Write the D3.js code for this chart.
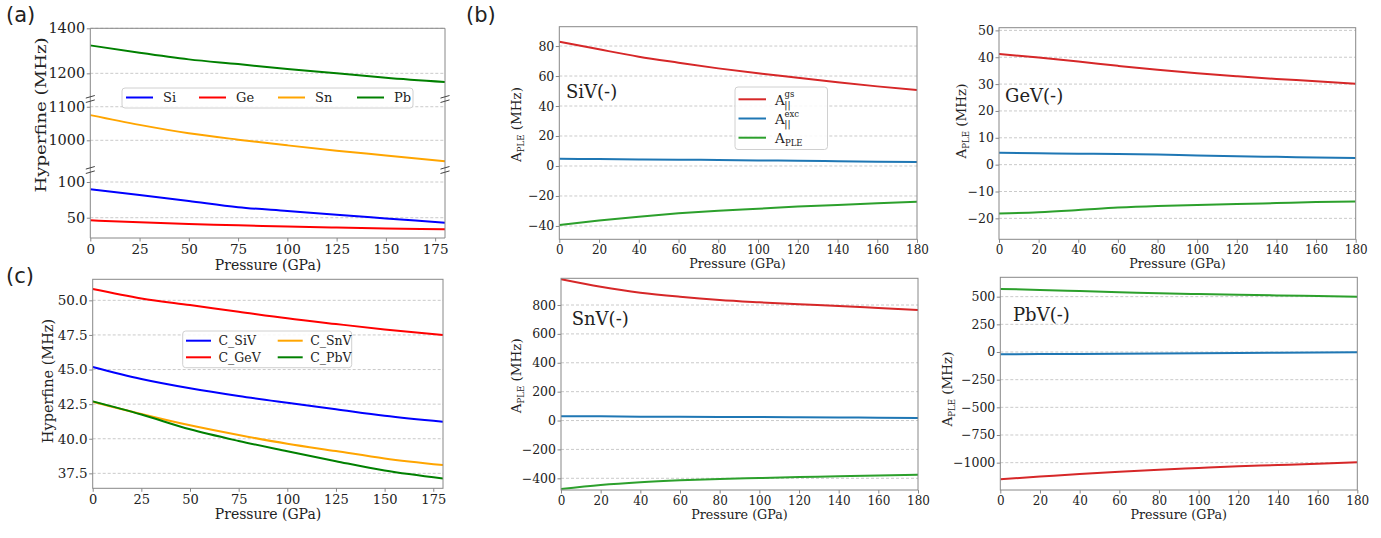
<!DOCTYPE html>
<html><head><meta charset="utf-8">
<script src="https://cdn.jsdelivr.net/npm/d3@7"></script>
<style>
body{margin:0;background:#fff}
svg{display:block}
text{font-family:"DejaVu Serif",serif;fill:#222}
</style>
</head><body>
<svg id="c" width="1381" height="538"></svg>
<script>
// ---------------- DATA ----------------
const pressureAC = [0, 25, 50, 75, 100, 125, 150, 180];
const hfSi = [89.8, 81.8, 73.4, 64.8, 59.4, 54.0, 49.0, 43.0];
const hfGe = [46.3, 43.5, 41.2, 39.5, 37.6, 36.2, 35.0, 33.7];
const hfSn = [1075, 1046, 1021, 1002, 985, 969, 955, 938];
const hfPb = [1324, 1291, 1262, 1241, 1219, 1200, 1180, 1161];
const namesA = ["Si", "Ge", "Sn", "Pb"];

const cSiV = [45.19, 44.32, 43.65, 43.09, 42.60, 42.13, 41.66, 41.23];
const cGeV = [50.82, 50.14, 49.66, 49.18, 48.70, 48.29, 47.90, 47.50];
const cSnV = [42.68, 41.79, 40.97, 40.27, 39.64, 39.11, 38.58, 38.10];
const cPbV = [42.70, 41.75, 40.68, 39.84, 39.10, 38.38, 37.70, 37.13];
const namesC = ["C_SiV", "C_GeV", "C_SnV", "C_PbV"];

const pressureB = [0, 20, 40, 60, 80, 100, 120, 140, 160, 180];
const sivGs  = [82.9, 77.8, 72.9, 68.9, 65.1, 61.8, 58.9, 55.8, 53.1, 50.7];
const sivExc = [4.8, 4.6, 4.4, 4.2, 4.0, 3.7, 3.5, 3.2, 2.9, 2.7];
const sivPle = [-39.3, -36.4, -33.8, -31.6, -29.8, -28.5, -27.1, -26.0, -24.9, -23.8];
const gevGs  = [41.2, 39.9, 38.4, 36.8, 35.3, 34.0, 32.9, 31.9, 31.1, 30.1];
const gevExc = [4.4, 4.2, 4.1, 4.0, 3.8, 3.4, 3.1, 2.9, 2.7, 2.5];
const gevPle = [-18.2, -17.7, -16.9, -16.0, -15.4, -15.0, -14.7, -14.3, -13.9, -13.7];
const snvGs  = [978, 926, 885, 857, 835, 819, 805, 793, 779, 765];
const snvExc = [30, 29, 27, 26, 25, 24, 23, 21, 20, 18];
const snvPle = [-474, -446, -427, -414, -405, -398, -391, -386, -381, -375];
const pbvGs  = [-1150, -1126, -1102, -1081, -1063, -1048, -1033, -1021, -1009, -996];
const pbvExc = [-21, -19, -17, -15, -13, -11, -9, -7, -5, -3];
const pbvPle = [570, 561, 551, 541, 531, 524, 518, 511, 505, 499];
const titlesB = ["SiV(-)", "GeV(-)", "SnV(-)", "PbV(-)"];

// tick values
const xTicksAC = [0, 25, 50, 75, 100, 125, 150, 175];
const xTicksB = [0, 20, 40, 60, 80, 100, 120, 140, 160, 180];
const yTicksATop = [1200, 1400];
const yTicksAMid = [1000, 1100];
const yTicksABot = [50, 100];
const yTicksC = [37.5, 40, 42.5, 45, 47.5, 50];
const yTicksSiV = [-40, -20, 0, 20, 40, 60, 80];
const yTicksGeV = [-20, -10, 0, 10, 20, 30, 40, 50];
const yTicksSnV = [-400, -200, 0, 200, 400, 600, 800];
const yTicksPbV = [-1000, -750, -500, -250, 0, 250, 500];

// ---------------- STYLE ----------------
const colAC = ["#0000ff", "#ff0000", "#ffa500", "#008000"];
const colB = {gs: "#d62728", exc: "#1f77b4", ple: "#2ca02c"};
const spineCol = "#888";
const gridCol = "#bdbdbd";
const SERIF = '"DejaVu Serif", serif';

const svg = d3.select("#c");
let clipId = 0;

function styleAxis(g, fs) {
  g.attr("font-family", null).attr("font-size", null);
  g.select(".domain").remove();
  g.selectAll(".tick line").attr("stroke", spineCol).attr("stroke-width", 1);
  g.selectAll(".tick text").attr("font-size", fs).style("font-family", SERIF).attr("fill", "#222");
}

function grid(g, x0, x1, y, ticks) {
  g.append("g").selectAll("line").data(ticks).join("line")
    .attr("x1", x0).attr("x2", x1)
    .attr("y1", d => y(d)).attr("y2", d => y(d))
    .attr("stroke", gridCol).attr("stroke-width", 0.8).attr("stroke-dasharray", "3,2");
}

function plotLine(g, x, y, xs, ys, color, clip) {
  const line = d3.line().x((d, i) => x(xs[i])).y(d => y(d)).curve(d3.curveMonotoneX);
  g.append("path").datum(ys).attr("d", line).attr("fill", "none")
    .attr("stroke", color).attr("stroke-width", 2).attr("clip-path", `url(#${clip})`);
}

function makeClip(x0, y0, x1, y1) {
  const id = "clip" + (clipId++);
  svg.append("clipPath").attr("id", id).append("rect")
    .attr("x", x0).attr("y", y0 - 1).attr("width", x1 - x0).attr("height", y1 - y0 + 2);
  return id;
}

function frame(g, x0, y0, x1, y1) {
  g.append("rect").attr("x", x0).attr("y", y0).attr("width", x1 - x0).attr("height", y1 - y0)
    .attr("fill", "none").attr("stroke", spineCol).attr("stroke-width", 1);
}

// ---------------- PANEL (a) ----------------
(function () {
  const x0 = 90.3, x1 = 445, yTop = 28.3, yB1 = 99, yB2 = 170, yBot = 238;
  const x = d3.scaleLinear().domain([0, 180]).range([x0, x1]);
  const yT = d3.scaleLinear().domain([1086, 1400]).range([yB1, yTop]);
  const yM = d3.scaleLinear().domain([911.6, 1123]).range([yB2, yB1]);
  const yL = d3.scaleLinear().domain([21.6, 116.8]).range([yBot, yB2]);
  const g = svg.append("g");
  grid(g, x0, x1, yT, yTicksATop);
  grid(g, x0, x1, yM, yTicksAMid);
  grid(g, x0, x1, yL, yTicksABot);
  const cT = makeClip(x0, yTop, x1, yB1), cM = makeClip(x0, yB1, x1, yB2), cL = makeClip(x0, yB2, x1, yBot);
  plotLine(g, x, yL, pressureAC, hfSi, colAC[0], cL);
  plotLine(g, x, yL, pressureAC, hfGe, colAC[1], cL);
  plotLine(g, x, yM, pressureAC, hfSn, colAC[2], cM);
  plotLine(g, x, yT, pressureAC, hfPb, colAC[3], cT);
  // spines (no horizontal line at breaks)
  g.append("line").attr("x1", x0).attr("x2", x1).attr("y1", yTop).attr("y2", yTop).attr("stroke", spineCol);
  g.append("line").attr("x1", x0).attr("x2", x1).attr("y1", yBot).attr("y2", yBot).attr("stroke", spineCol);
  g.append("line").attr("x1", x0).attr("x2", x0).attr("y1", yTop).attr("y2", yBot).attr("stroke", spineCol);
  g.append("line").attr("x1", x1).attr("x2", x1).attr("y1", yTop).attr("y2", yBot).attr("stroke", spineCol);
  // break marks
  [x0, x1].forEach(bx => [yB1, yB2].forEach(by => [-2.2, 2.2].forEach(dy => {
    g.append("line").attr("x1", bx - 4.5).attr("x2", bx + 4.5)
      .attr("y1", by + dy + 1.3).attr("y2", by + dy - 1.3)
      .attr("stroke", "#444").attr("stroke-width", 1);
  })));
  // axes
  const ax = g.append("g").attr("transform", `translate(0,${yBot})`)
    .call(d3.axisBottom(x).tickValues(xTicksAC).tickSize(3.5).tickPadding(3).tickFormat(d3.format("d")));
  styleAxis(ax, 13.5);
  [[yT, yTicksATop], [yM, yTicksAMid], [yL, yTicksABot]].forEach(([ys, tv]) => {
    const ay = g.append("g").attr("transform", `translate(${x0},0)`)
      .call(d3.axisLeft(ys).tickValues(tv).tickSize(3.5).tickPadding(1.5).tickFormat(d3.format("d")));
    styleAxis(ay, 14.5);
  });
  svg.append("text").attr("x", 268).attr("y", 270).attr("text-anchor", "middle").attr("font-size", 14).text("Pressure (GPa)");
  svg.append("text").attr("transform", "translate(41,115) rotate(-90)").attr("text-anchor", "middle")
    .attr("dy", "0.35em").attr("font-size", 14.5).attr("textLength", 155).attr("lengthAdjust", "spacingAndGlyphs")
    .text("Hyperfine (MHz)");
  // legend
  const lg = svg.append("g");
  lg.append("rect").attr("x", 122).attr("y", 88).attr("width", 291).attr("height", 20).attr("rx", 3)
    .attr("fill", "#fff").attr("fill-opacity", 0.85).attr("stroke", "#d0d0d0");
  const lx = [126, 199, 278, 357];
  namesA.forEach((n, i) => {
    lg.append("line").attr("x1", lx[i]).attr("x2", lx[i] + 27).attr("y1", 97.5).attr("y2", 97.5)
      .attr("stroke", colAC[i]).attr("stroke-width", 2);
    lg.append("text").attr("x", lx[i] + 37).attr("y", 97.5).attr("dy", "0.35em").attr("font-size", 13).text(n);
  });
  svg.append("text").attr("x", 6).attr("y", 22).attr("font-size", 21)
    .style("font-family", '"DejaVu Sans", sans-serif').text("(a)");
})();

// ---------------- PANEL (c) ----------------
(function () {
  const x0 = 92.7, x1 = 443, y0 = 279.3, y1 = 488.3;
  const x = d3.scaleLinear().domain([0, 180]).range([x0, x1]);
  const y = d3.scaleLinear().domain([36.42, 51.52]).range([y1, y0]);
  const g = svg.append("g");
  grid(g, x0, x1, y, yTicksC);
  const cp = makeClip(x0, y0, x1, y1);
  [cSiV, cGeV, cSnV, cPbV].forEach((s, i) => plotLine(g, x, y, pressureAC, s, colAC[i], cp));
  frame(g, x0, y0, x1, y1);
  const ax = g.append("g").attr("transform", `translate(0,${y1})`)
    .call(d3.axisBottom(x).tickValues(xTicksAC).tickSize(3.5).tickPadding(2.5).tickFormat(d3.format("d")));
  styleAxis(ax, 13);
  const ay = g.append("g").attr("transform", `translate(${x0},0)`)
    .call(d3.axisLeft(y).tickValues(yTicksC).tickSize(3.5).tickPadding(1.5).tickFormat(d3.format(".1f")));
  styleAxis(ay, 13.5);
  svg.append("text").attr("x", 268).attr("y", 519).attr("text-anchor", "middle").attr("font-size", 14).text("Pressure (GPa)");
  svg.append("text").attr("transform", "translate(47.5,381) rotate(-90)").attr("text-anchor", "middle")
    .attr("dy", "0.35em").attr("font-size", 14.5).text("Hyperfine (MHz)");
  const lg = svg.append("g");
  lg.append("rect").attr("x", 182.7).attr("y", 331).attr("width", 169).attr("height", 36.7).attr("rx", 3)
    .attr("fill", "#fff").attr("fill-opacity", 0.85).attr("stroke", "#d0d0d0");
  const pos = [[186, 340.7], [186, 357.3], [277.7, 340.7], [277.7, 357.3]];
  namesC.forEach((n, i) => {
    lg.append("line").attr("x1", pos[i][0]).attr("x2", pos[i][0] + 25).attr("y1", pos[i][1]).attr("y2", pos[i][1])
      .attr("stroke", colAC[i]).attr("stroke-width", 2);
    lg.append("text").attr("x", pos[i][0] + 32.5).attr("y", pos[i][1]).attr("dy", "0.35em").attr("font-size", 12.5).text(n);
  });
  svg.append("text").attr("x", 6).attr("y", 283).attr("font-size", 21)
    .style("font-family", '"DejaVu Sans", sans-serif').text("(c)");
})();

// ---------------- PANELS (b) ----------------
const panelsB = [
  {x0: 559.3, x1: 917, y0: 26.7, y1: 239.3, dom: [-48.9, 92.9], ticks: yTicksSiV, gs: sivGs, exc: sivExc, ple: sivPle,
   title: titlesB[0], tx: 566, ty: 98, lx: 516, ly: 124.5, xl: 737.5, xly: 268},
  {x0: 999, x1: 1355.7, y0: 27.7, y1: 239.3, dom: [-27.8, 51], ticks: yTicksGeV, gs: gevGs, exc: gevExc, ple: gevPle,
   title: titlesB[1], tx: 1005, ty: 102, lx: 961, ly: 121, xl: 1177.5, xly: 268},
  {x0: 561, x1: 918, y0: 278.3, y1: 490, dom: [-481, 985], ticks: yTicksSnV, gs: snvGs, exc: snvExc, ple: snvPle,
   title: titlesB[2], tx: 571.7, ty: 325, lx: 516, ly: 375.7, xl: 739.5, xly: 519},
  {x0: 1000.3, x1: 1357.3, y0: 277.3, y1: 490, dom: [-1247, 675], ticks: yTicksPbV, gs: pbvGs, exc: pbvExc, ple: pbvPle,
   title: titlesB[3], tx: 1013, ty: 320.7, lx: 947.5, ly: 389, xl: 1178.7, xly: 519}
];

panelsB.forEach(p => {
  const x = d3.scaleLinear().domain([0, 180]).range([p.x0, p.x1]);
  const y = d3.scaleLinear().domain(p.dom).range([p.y1, p.y0]);
  const g = svg.append("g");
  grid(g, p.x0, p.x1, y, p.ticks);
  const cp = makeClip(p.x0, p.y0, p.x1, p.y1);
  plotLine(g, x, y, pressureB, p.gs, colB.gs, cp);
  plotLine(g, x, y, pressureB, p.exc, colB.exc, cp);
  plotLine(g, x, y, pressureB, p.ple, colB.ple, cp);
  frame(g, p.x0, p.y0, p.x1, p.y1);
  const ax = g.append("g").attr("transform", `translate(0,${p.y1})`)
    .call(d3.axisBottom(x).tickValues(xTicksB).tickSize(3.5).tickPadding(3).tickFormat(d3.format("d")));
  styleAxis(ax, 12);
  const ay = g.append("g").attr("transform", `translate(${p.x0},0)`)
    .call(d3.axisLeft(y).tickValues(p.ticks).tickSize(3.5).tickPadding(1.5).tickFormat(d3.format("d")));
  styleAxis(ay, 12.5);
  svg.append("text").attr("x", p.xl).attr("y", p.xly).attr("text-anchor", "middle").attr("font-size", 12.7).text("Pressure (GPa)");
  const t = svg.append("text").attr("transform", `translate(${p.lx},${p.ly}) rotate(-90)`)
    .attr("text-anchor", "middle").attr("dy", "0.35em").attr("font-size", 13.5);
  t.append("tspan").text("A");
  t.append("tspan").attr("font-size", 8.5).attr("dy", 3).text("PLE");
  t.append("tspan").attr("dy", -3).text(" (MHz)");
  svg.append("text").attr("x", p.tx).attr("y", p.ty).attr("font-size", 18).text(p.title);
});

// legend in SiV panel
(function () {
  const lg = svg.append("g");
  lg.append("rect").attr("x", 735).attr("y", 87).attr("width", 92.5).attr("height", 62.5).attr("rx", 3)
    .attr("fill", "#fff").attr("fill-opacity", 0.85).attr("stroke", "#d0d0d0");
  const rows = [
    {c: colB.gs, y: 99.3, sup: "gs"},
    {c: colB.exc, y: 118.5, sup: "exc"},
    {c: colB.ple, y: 137.7, sub: "PLE"}
  ];
  rows.forEach(r => {
    lg.append("line").attr("x1", 738.5).attr("x2", 766).attr("y1", r.y).attr("y2", r.y)
      .attr("stroke", r.c).attr("stroke-width", 2);
    const bx = 775, by = r.y + 5.5;
    lg.append("text").attr("x", bx).attr("y", by).attr("font-size", 13.5).text("A");
    if (r.sup) {
      lg.append("text").attr("x", bx + 9.5).attr("y", by - 7.5).attr("font-size", 8.5).text(r.sup);
      lg.append("text").attr("x", bx + 9.3).attr("y", by + 3).attr("font-size", 9.5).text("||");
    } else {
      lg.append("text").attr("x", bx + 10).attr("y", by + 3).attr("font-size", 8.5).text(r.sub);
    }
  });
  svg.append("text").attr("x", 466).attr("y", 22).attr("font-size", 21)
    .style("font-family", '"DejaVu Sans", sans-serif').text("(b)");
})();
</script>
</body></html>
